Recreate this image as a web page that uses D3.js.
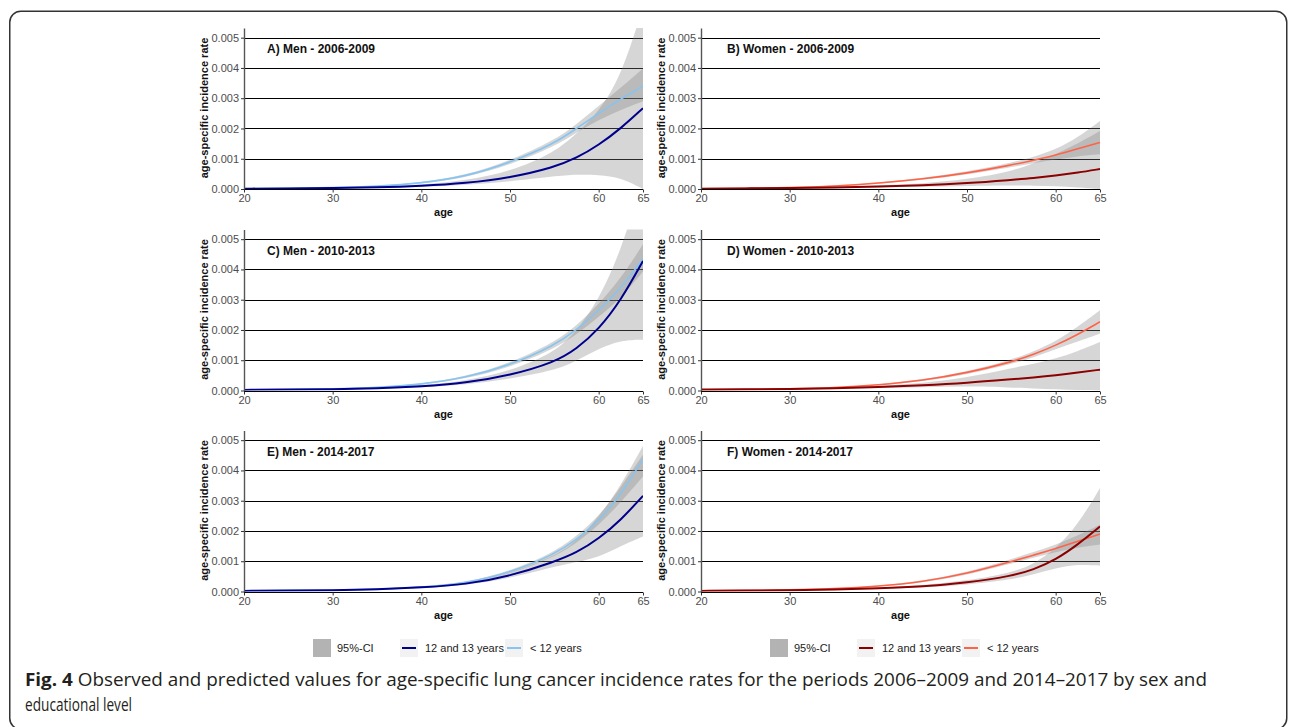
<!DOCTYPE html>
<html>
<head>
<meta charset="utf-8">
<script src="https://cdn.jsdelivr.net/npm/d3@7"></script>
<style>
  body { margin: 0; background: #fff; }
  svg { display: block; }
</style>
</head>
<body>
<div id="chart"></div>
<script>
const ages = [20, 25, 30, 35, 40, 45, 50, 55, 57.5, 60, 62.5, 65];

// rates are per 1000 persons (axis shows them as plain rates)
// A) Men 2006-2009
const a12    = [0.01, 0.02, 0.03, 0.05, 0.10, 0.19, 0.37, 0.72, 1.02, 1.45, 2.00, 2.67];
const a12lo  = [0.005, 0.01, 0.02, 0.035, 0.07, 0.13, 0.25, 0.42, 0.48, 0.47, 0.38, 0.0];
const a12hi  = [0.015, 0.03, 0.045, 0.07, 0.14, 0.28, 0.57, 1.20, 1.82, 2.55, 3.70, 6.0];
const aLt    = [0.01, 0.02, 0.04, 0.09, 0.19, 0.41, 0.87, 1.50, 2.00, 2.50, 2.98, 3.40];
const aLtLo  = [0.005, 0.015, 0.035, 0.08, 0.17, 0.37, 0.80, 1.40, 1.87, 2.28, 2.62, 2.90];
const aLtHi  = [0.015, 0.025, 0.045, 0.10, 0.21, 0.45, 0.94, 1.61, 2.14, 2.74, 3.35, 3.98];
// B) Women 2006-2009
const b12    = [0.01, 0.02, 0.03, 0.05, 0.08, 0.12, 0.19, 0.30, 0.36, 0.44, 0.54, 0.66];
const b12lo  = [0.005, 0.01, 0.02, 0.03, 0.05, 0.07, 0.10, 0.12, 0.11, 0.10, 0.05, 0.0];
const b12hi  = [0.02, 0.03, 0.04, 0.07, 0.11, 0.18, 0.32, 0.58, 0.85, 1.15, 1.50, 1.92];
const bLt    = [0.01, 0.02, 0.04, 0.09, 0.19, 0.33, 0.52, 0.79, 0.95, 1.12, 1.33, 1.54];
const bLtLo  = [0.005, 0.015, 0.03, 0.075, 0.17, 0.30, 0.47, 0.72, 0.85, 0.98, 1.08, 1.15];
const bLtHi  = [0.015, 0.025, 0.05, 0.105, 0.21, 0.36, 0.57, 0.87, 1.06, 1.30, 1.70, 2.25];
// C) Men 2010-2013
const c12    = [0.02, 0.03, 0.04, 0.07, 0.13, 0.25, 0.50, 0.93, 1.37, 2.02, 2.97, 4.28];
const c12lo  = [0.015, 0.02, 0.03, 0.05, 0.10, 0.19, 0.38, 0.66, 0.98, 1.38, 1.66, 1.68];
const c12hi  = [0.025, 0.04, 0.05, 0.09, 0.17, 0.32, 0.64, 1.25, 1.95, 3.00, 4.60, 7.00];
const cLt    = [0.02, 0.03, 0.05, 0.09, 0.20, 0.42, 0.83, 1.49, 1.99, 2.65, 3.37, 4.35];
const cLtLo  = [0.015, 0.025, 0.04, 0.08, 0.18, 0.38, 0.76, 1.38, 1.85, 2.43, 3.05, 3.93];
const cLtHi  = [0.025, 0.035, 0.06, 0.10, 0.22, 0.46, 0.90, 1.60, 2.14, 2.85, 3.70, 4.83];
// D) Women 2010-2013
const d12    = [0.03, 0.04, 0.05, 0.07, 0.11, 0.17, 0.25, 0.37, 0.43, 0.50, 0.59, 0.69];
const d12lo  = [0.02, 0.03, 0.035, 0.05, 0.08, 0.11, 0.14, 0.10, 0.07, 0.04, 0.01, 0.0];
const d12hi  = [0.04, 0.05, 0.065, 0.09, 0.15, 0.24, 0.42, 0.74, 0.88, 1.05, 1.30, 1.60];
const dLt    = [0.02, 0.03, 0.05, 0.09, 0.18, 0.33, 0.58, 0.94, 1.19, 1.49, 1.85, 2.27];
const dLtLo  = [0.015, 0.025, 0.04, 0.08, 0.16, 0.30, 0.53, 0.87, 1.09, 1.37, 1.62, 1.88];
const dLtHi  = [0.025, 0.035, 0.06, 0.10, 0.20, 0.36, 0.63, 1.01, 1.29, 1.62, 2.10, 2.65];
// E) Men 2014-2017
const e12    = [0.02, 0.03, 0.04, 0.07, 0.13, 0.23, 0.51, 0.98, 1.28, 1.74, 2.36, 3.16];
const e12lo  = [0.015, 0.025, 0.035, 0.06, 0.11, 0.20, 0.44, 0.82, 0.97, 1.13, 1.50, 1.82];
const e12hi  = [0.025, 0.035, 0.05, 0.08, 0.15, 0.27, 0.59, 1.16, 1.65, 2.45, 3.50, 4.81];
const eLt    = [0.02, 0.03, 0.04, 0.07, 0.14, 0.27, 0.62, 1.22, 1.71, 2.32, 3.20, 4.37];
const eLtLo  = [0.015, 0.025, 0.035, 0.06, 0.12, 0.24, 0.57, 1.14, 1.60, 2.18, 2.95, 3.80];
const eLtHi  = [0.025, 0.035, 0.05, 0.08, 0.16, 0.30, 0.67, 1.30, 1.83, 2.47, 3.45, 4.52];
// F) Women 2014-2017
const f12    = [0.02, 0.03, 0.04, 0.06, 0.10, 0.16, 0.29, 0.51, 0.72, 1.05, 1.55, 2.15];
const f12lo  = [0.015, 0.02, 0.03, 0.045, 0.08, 0.13, 0.22, 0.40, 0.56, 0.78, 0.90, 0.86];
const f12hi  = [0.025, 0.04, 0.05, 0.075, 0.12, 0.20, 0.36, 0.62, 0.90, 1.40, 2.20, 3.42];
const fLt    = [0.02, 0.03, 0.05, 0.09, 0.17, 0.32, 0.59, 0.99, 1.20, 1.42, 1.66, 1.90];
const fLtLo  = [0.015, 0.025, 0.04, 0.08, 0.15, 0.29, 0.54, 0.92, 1.11, 1.31, 1.45, 1.55];
const fLtHi  = [0.025, 0.035, 0.06, 0.10, 0.19, 0.35, 0.64, 1.07, 1.30, 1.54, 1.85, 2.21];

const titles = ['A) Men - 2006-2009', 'B) Women - 2006-2009',
                'C) Men - 2010-2013', 'D) Women - 2010-2013',
                'E) Men - 2014-2017', 'F) Women - 2014-2017'];
const yTicks = [0, 1, 2, 3, 4, 5];
const yTickLabels = ['0.000', '0.001', '0.002', '0.003', '0.004', '0.005'];
const xTicks = [20, 30, 40, 50, 60, 65];
const legendLabels = ['95%-CI', '12 and 13 years', '< 12 years'];
const captionBold = 'Fig. 4';
const captionLine1 = ' Observed and predicted values for age-specific lung cancer incidence rates for the periods 2006\u20132009 and 2014\u20132017 by sex and';
const captionLine2 = 'educational level';

const colors = {
    men:   { g12: '#00008B', lt: '#87C4F0' },
    women: { g12: '#8B0000', lt: '#FF6347' }
};

// panel table built from the arrays above
const panels = [
    { title: titles[0], col: 0, row: 0, sex: 'men',   g12: [a12, a12lo, a12hi], lt: [aLt, aLtLo, aLtHi] },
    { title: titles[1], col: 1, row: 0, sex: 'women', g12: [b12, b12lo, b12hi], lt: [bLt, bLtLo, bLtHi] },
    { title: titles[2], col: 0, row: 1, sex: 'men',   g12: [c12, c12lo, c12hi], lt: [cLt, cLtLo, cLtHi] },
    { title: titles[3], col: 1, row: 1, sex: 'women', g12: [d12, d12lo, d12hi], lt: [dLt, dLtLo, dLtHi] },
    { title: titles[4], col: 0, row: 2, sex: 'men',   g12: [e12, e12lo, e12hi], lt: [eLt, eLtLo, eLtHi] },
    { title: titles[5], col: 1, row: 2, sex: 'women', g12: [f12, f12lo, f12hi], lt: [fLt, fLtLo, fLtHi] }
];

function init() {
    const width = 1295, height = 727;
    const colLeft = [244, 701];
    const plotW = 399;
    const rowZero = [189, 390.5, 591.5];
    const plotH = 161;
    const font = '"Liberation Sans", Arial, sans-serif';

    const svg = d3.select('#chart').append('svg')
        .attr('width', width)
        .attr('height', height)
        .style('font-family', font);

    const defs = svg.append('defs');

    panels.forEach((p, i) => {
        const left = colLeft[p.col];
        const zero = rowZero[p.row];
        const x = d3.scaleLinear().domain([20, 65]).range([left, left + plotW]);
        const y = d3.scaleLinear().domain([0, 5.32]).range([zero, zero - plotH]);

        defs.append('clipPath').attr('id', 'clip' + i)
            .append('rect')
            .attr('x', left).attr('y', zero - plotH)
            .attr('width', plotW).attr('height', plotH);

        const g = svg.append('g');

        // horizontal grid lines
        g.selectAll('.grid')
            .data(yTicks)
            .enter().append('line')
            .attr('x1', left).attr('x2', left + plotW)
            .attr('y1', d => Math.round(y(d)) + 0.5)
            .attr('y2', d => Math.round(y(d)) + 0.5)
            .attr('stroke', '#000')
            .attr('stroke-width', 1);

        const area = d3.area()
            .x((d, j) => x(ages[j]))
            .y0(d => y(d[0]))
            .y1(d => y(d[1]))
            .curve(d3.curveBasis);
        const line = d3.line()
            .x((d, j) => x(ages[j]))
            .y(d => y(d))
            .curve(d3.curveBasis);

        const inner = g.append('g').attr('clip-path', `url(#clip${i})`);

        // confidence ribbons
        [p.g12, p.lt].forEach(s => {
            inner.append('path')
                .attr('d', area(s[1].map((lo, j) => [lo, s[2][j]])))
                .attr('fill', '#808080')
                .attr('fill-opacity', 0.32);
        });

        // fitted curves
        inner.append('path')
            .attr('d', line(p.lt[0]))
            .attr('fill', 'none')
            .attr('stroke', colors[p.sex].lt)
            .attr('stroke-width', 1.6);
        inner.append('path')
            .attr('d', line(p.g12[0]))
            .attr('fill', 'none')
            .attr('stroke', colors[p.sex].g12)
            .attr('stroke-width', 2);

        // y axis
        const yAxis = g.append('g')
            .attr('transform', `translate(${left},0)`)
            .call(d3.axisLeft(y).tickValues(yTicks).tickSize(3).tickSizeOuter(0)
                .tickFormat((d, j) => yTickLabels[j]));
        yAxis.select('.domain').attr('stroke', '#555').attr('stroke-width', 1.4);
        yAxis.selectAll('.tick line').attr('stroke', '#333');
        yAxis.selectAll('text').attr('fill', '#4d4d4d').style('font-size', '11px')
            .style('font-family', font).attr('x', -5);

        // x axis
        const xAxis = g.append('g')
            .attr('transform', `translate(0,${Math.round(zero) + 0.5})`)
            .call(d3.axisBottom(x).tickValues(xTicks).tickSize(3).tickSizeOuter(0));
        xAxis.select('.domain').remove();
        xAxis.selectAll('.tick line').attr('stroke', '#333');
        xAxis.selectAll('text').attr('fill', '#4d4d4d').style('font-size', '11px')
            .style('font-family', font).attr('y', 5);

        // axis titles
        g.append('text')
            .attr('x', left + plotW / 2)
            .attr('y', zero + 27)
            .attr('text-anchor', 'middle')
            .style('font-size', '11px')
            .style('font-weight', 'bold')
            .attr('fill', '#111')
            .text('age');
        g.append('text')
            .attr('transform', `translate(${left - 36},${zero - plotH / 2 - 0.5}) rotate(-90)`)
            .attr('text-anchor', 'middle')
            .style('font-size', '11px')
            .style('font-weight', 'bold')
            .attr('fill', '#111')
            .text('age-specific incidence rate');

        // panel title
        g.append('text')
            .attr('x', left + (p.col === 0 ? 23 : 26))
            .attr('y', zero - plotH + 25)
            .style('font-size', '12px')
            .style('font-weight', 'bold')
            .attr('fill', '#111')
            .text(p.title);
    });

    /************************** legends ****************************/
    ['men', 'women'].forEach((sex, c) => {
        const left = colLeft[c];
        const lg = svg.append('g');
        const cy = 648;

        lg.append('rect')
            .attr('x', left + 69).attr('y', cy - 9)
            .attr('width', 18).attr('height', 18)
            .attr('fill', '#b3b3b3');
        lg.append('text')
            .attr('x', left + 93).attr('y', cy + 4)
            .style('font-size', '11px').attr('fill', '#222')
            .text(legendLabels[0]);

        const keys = [
            { off: 156, color: colors[sex].g12, label: legendLabels[1] },
            { off: 261, color: colors[sex].lt, label: legendLabels[2] }
        ];
        keys.forEach(k => {
            lg.append('rect')
                .attr('x', left + k.off).attr('y', cy - 9)
                .attr('width', 18).attr('height', 18)
                .attr('fill', '#f2f2f2');
            lg.append('line')
                .attr('x1', left + k.off + 2).attr('x2', left + k.off + 16)
                .attr('y1', cy).attr('y2', cy)
                .attr('stroke', k.color).attr('stroke-width', 2);
            lg.append('text')
                .attr('x', left + k.off + 25).attr('y', cy + 4)
                .style('font-size', '11px').attr('fill', '#222')
                .text(k.label);
        });
    });

    /************************** caption ****************************/
    const capFont = '"Liberation Sans Narrow", "Open Sans", sans-serif';
    const cap1 = svg.append('text')
        .attr('x', 25).attr('y', 686)
        .attr('textLength', 1182)
        .attr('lengthAdjust', 'spacingAndGlyphs')
        .style('font-family', capFont)
        .style('font-size', '17.5px')
        .attr('fill', '#231f20');
    cap1.append('tspan').style('font-weight', 'bold').text(captionBold);
    cap1.append('tspan').text(captionLine1);

    svg.append('text')
        .attr('x', 25).attr('y', 711)
        .attr('textLength', 107)
        .attr('lengthAdjust', 'spacingAndGlyphs')
        .style('font-family', capFont)
        .style('font-size', '17.5px')
        .attr('fill', '#231f20')
        .text(captionLine2);

    // outer frame
    svg.append('rect')
        .attr('x', 9.75).attr('y', 11.25)
        .attr('width', 1277).attr('height', 718)
        .attr('rx', 11)
        .attr('fill', 'none')
        .attr('stroke', '#333')
        .attr('stroke-width', 1.5);
}

window.onload = init;
</script>
</body>
</html>
